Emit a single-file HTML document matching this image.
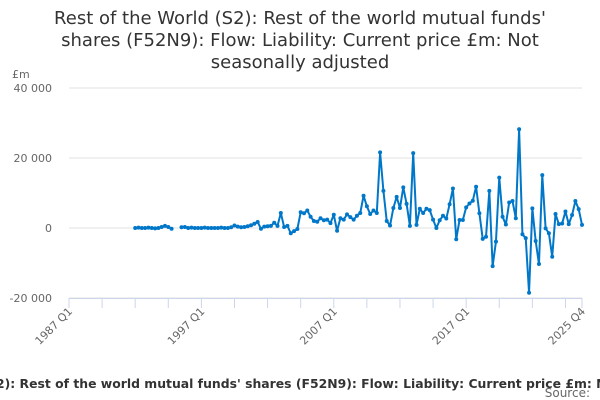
<!DOCTYPE html>
<html><head><meta charset="utf-8"><style>
html,body{margin:0;padding:0;background:#fff;width:600px;height:400px;overflow:hidden}
svg{display:block;font-family:"DejaVu Sans","Liberation Sans",sans-serif}
</style></head><body>
<svg id="chart" width="600" height="400">
<g font-size="18" fill="#333" text-anchor="middle">
<text x="300" y="24">Rest of the World (S2): Rest of the world mutual funds'</text>
<text x="300" y="46">shares (F52N9): Flow: Liability: Current price £m: Not</text>
<text x="300" y="68">seasonally adjusted</text>
</g>
<text x="12" y="78" font-size="11" fill="#666">£m</text>
<g id="grid"></g><g id="xaxis"></g><g id="series"></g>
<text x="-4" y="388" font-size="12.4" font-weight="bold" fill="#333">2): Rest of the world mutual funds' shares (F52N9): Flow: Liability: Current price £m: Not seasonally adjusted</text>
<text x="590" y="397" font-size="12" fill="#666" text-anchor="end">Source:</text>
</svg>
<script>
const yTicks=[40000,20000,0,-20000];
const yTickLabels=["40 000","20 000","0","-20 000"];
const xLabelQuarters=[0,40,80,120,155];
const xLabels=["1987 Q1","1997 Q1","2007 Q1","2017 Q1","2025 Q4"];
const startIndex=20;
const values=[0,100,0,0,100,0,-100,0,300,600,300,-200,null,null,
200,300,0,100,0,0,0,100,0,0,0,0,100,0,0,200,700,400,
200,300,500,800,1200,1700,-200,400,500,600,1500,600,4300,300,600,-1500,-900,-300,4500,4200,5000,
3200,2000,1800,2800,2200,2400,1400,3800,-800,2800,2400,3900,3100,2400,3500,4300,9200,6200,4000,5000,4300,21600,10600,2000,700,5700,8900,5700,11600,6900,600,21400,900,5500,4300,5500,5100,2400,0,2200,3500,2700,6800,
11300,-3200,2300,2300,5900,7000,7800,11800,4200,-3100,-2500,10600,-10900,-3900,14400,3200,1000,7300,7700,2800,28200,-1800,-2900,-18500,5600,-3700,-10300,15100,-100,-1500,-8200,4000,1100,1300,4700,1100,3700,7700,5400,900];
const X0=69,X1=582,NQ=155,Y0=228,PX=70/20000;
const xs=q=>X0+q*(X1-X0)/NQ, ys=v=>Y0-v*PX;
const NS="http://www.w3.org/2000/svg";
function mk(t,a,p){const e=document.createElementNS(NS,t);for(const k in a)e.setAttribute(k,a[k]);p.appendChild(e);return e;}
const grid=document.getElementById('grid');
yTicks.forEach((v,i)=>{
 const l=mk('line',{x1:X0,x2:X1,y1:ys(v),y2:ys(v),stroke:'#e0e0e0','stroke-width':1},grid);
 
 
 const t=mk('text',{x:52,y:ys(v)+4,'font-size':11,fill:'#666','text-anchor':'end'},grid);
 t.textContent=yTickLabels[i];
 
 
});
const xa=document.getElementById('xaxis');
const ax=mk('line',{x1:X0,x2:X1,y1:298.5,y2:298.5,stroke:'#ccd6eb'},xa);


for(let q=0;q<=NQ;q+=10){const tk=mk('line',{x1:xs(q),x2:xs(q),y1:298,y2:308,stroke:'#ccd6eb'},xa);
 
 }
const tl=mk('line',{x1:xs(NQ),x2:xs(NQ),y1:298,y2:308,stroke:'#ccd6eb'},xa);


xLabelQuarters.forEach((q,i)=>{
 const x=xs(q)+4,y=312;
 const t=mk('text',{x:x,y:y,'font-size':11,fill:'#666','text-anchor':'end',transform:`rotate(-45 ${x} ${y})`},xa);
 t.textContent=xLabels[i];
 
 
});
const sg=document.getElementById('series');
let seg=[];const segs=[];
values.forEach((v,k)=>{if(v===null){if(seg.length)segs.push(seg);seg=[];}else seg.push([xs(startIndex+k),ys(v)]);});
if(seg.length)segs.push(seg);
segs.forEach(s=>{
 const p=mk('polyline',{points:s.map(a=>a.join(',')).join(' '),fill:'none',stroke:'#0077c8','stroke-width':2,'stroke-linejoin':'round'},sg);
 
 
 s.forEach(a=>{const c=mk('circle',{cx:a[0],cy:a[1],r:2,fill:'#0077c8'},sg);
 
 });
});
</script>
</body></html>
